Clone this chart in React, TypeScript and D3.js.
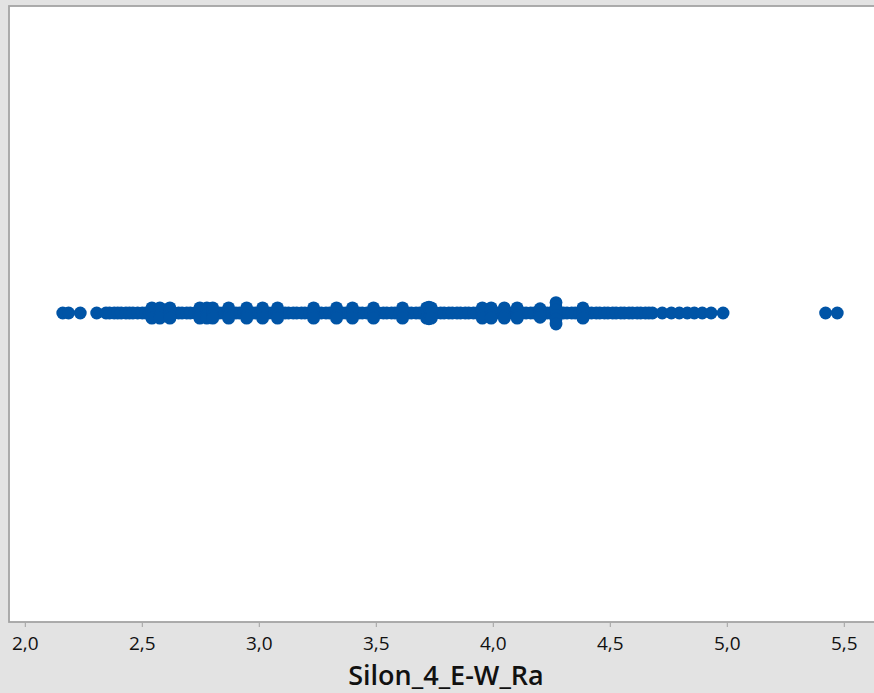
import React from "react";
import * as d3 from "d3";

// Axis ticks
const tickValues = [2.0, 2.5, 3.0, 3.5, 4.0, 4.5, 5.0, 5.5];
const axisTitle = "Silon_4_E-W_Ra";

const centerValues = [
  2.16, 2.185, 2.235, 2.305,
  2.345, 2.36, 2.38, 2.395, 2.41, 2.43, 2.445, 2.46, 2.48, 2.5, 2.515, 2.53, 2.55, 2.565, 2.585, 2.6,
  2.62, 2.635, 2.655, 2.67, 2.69, 2.705, 2.725, 2.74, 2.76, 2.775, 2.795, 2.81, 2.83, 2.845, 2.865, 2.88,
  2.9, 2.915, 2.935, 2.95, 2.97, 2.985, 3.005, 3.02, 3.04, 3.055, 3.075, 3.09, 3.11, 3.125, 3.145, 3.16,
  3.18, 3.195, 3.215, 3.23, 3.25, 3.265, 3.285, 3.3, 3.32, 3.335, 3.355, 3.37, 3.39, 3.405, 3.425, 3.44,
  3.46, 3.475, 3.495, 3.51, 3.53, 3.545, 3.565, 3.58, 3.6, 3.615, 3.635, 3.65, 3.67, 3.685, 3.705, 3.72,
  3.74, 3.755, 3.775, 3.79, 3.81, 3.825, 3.845, 3.86, 3.88, 3.895, 3.915, 3.93, 3.95, 3.965, 3.985, 4.0,
  4.02, 4.035, 4.055, 4.07, 4.09, 4.105, 4.125, 4.14, 4.16, 4.175, 4.195, 4.21, 4.23, 4.245, 4.265, 4.28,
  4.3, 4.315, 4.335, 4.35, 4.37, 4.385, 4.405, 4.42, 4.44, 4.455, 4.475, 4.49, 4.51, 4.525, 4.545, 4.56,
  4.58, 4.595, 4.615, 4.63, 4.65, 4.665, 4.68,
  4.722, 4.761, 4.795, 4.829, 4.859, 4.893, 4.931, 4.982,
  5.42, 5.47,
];

// Jittered observations (clusters that spread vertically)
const spreadValues = [
  2.541, 2.541, 2.541, 2.541, 2.575, 2.575, 2.575, 2.575, 2.618, 2.618, 2.618, 2.618,
  2.746, 2.746, 2.746, 2.746, 2.776, 2.776, 2.776, 2.776, 2.801, 2.801, 2.801, 2.801,
  2.869, 2.869, 2.869, 2.869, 2.946, 2.946, 2.946, 2.946, 3.014, 3.014, 3.014, 3.014,
  3.078, 3.078, 3.078, 3.078, 3.232, 3.232, 3.232, 3.232, 3.33, 3.33, 3.33, 3.33,
  3.398, 3.398, 3.398, 3.398, 3.488, 3.488, 3.488, 3.488, 3.612, 3.612, 3.612, 3.612,
  3.715, 3.715, 3.725, 3.725, 3.735, 3.735,
  3.953, 3.953, 3.953, 3.953, 3.991, 3.991, 3.991, 3.991, 4.047, 4.047, 4.047, 4.047,
  4.102, 4.102, 4.102, 4.102, 4.2, 4.2, 4.2, 4.2,
  4.268, 4.268, 4.268, 4.268, 4.268, 4.268, 4.383, 4.383, 4.383, 4.383,
];
const spreadJitter = [
  0.017, 0.009, -0.009, -0.017, 0.017, 0.009, -0.009, -0.017, 0.017, 0.009, -0.009, -0.017,
  0.017, 0.009, -0.009, -0.017, 0.017, 0.009, -0.009, -0.017, 0.017, 0.009, -0.009, -0.017,
  0.017, 0.009, -0.009, -0.017, 0.017, 0.009, -0.009, -0.017, 0.017, 0.009, -0.009, -0.017,
  0.017, 0.009, -0.009, -0.017, 0.017, 0.009, -0.009, -0.017, 0.017, 0.009, -0.009, -0.017,
  0.017, 0.009, -0.009, -0.017, 0.017, 0.009, -0.009, -0.017, 0.017, 0.009, -0.009, -0.017,
  0.017, -0.017, 0.019, -0.019, 0.017, -0.017,
  0.017, 0.009, -0.009, -0.017, 0.017, 0.009, -0.009, -0.017, 0.017, 0.009, -0.009, -0.017,
  0.017, 0.009, -0.009, -0.017, 0.014, 0.007, -0.007, -0.014,
  0.034, 0.02, 0.009, -0.009, -0.02, -0.036, 0.017, 0.009, -0.009, -0.017,
];

const W = 874;
const H = 693;
const plot = { left: 9, top: 6, right: 900, bottom: 622 };
const DOT = "#0054a6";
const FONT = "'Open Sans', 'Noto Sans', sans-serif";

export default function App() {
  const x = d3.scaleLinear().domain([2.0, 5.5]).range([25.3, 844.3]);
  const y = d3.scaleLinear().domain([-1, 1]).range([620, 6]);
  const fmt = (v: number) => d3.format(".1f")(v).replace(".", ",");
  const r = 6.4;

  const points = [
    ...centerValues.map((v) => ({ v, j: 0 })),
    ...spreadValues.map((v, i) => ({ v, j: spreadJitter[i] })),
  ];

  return (
    <svg
      width={W}
      height={H}
      style={{ position: "absolute", left: 0, top: 0, display: "block" }}
    >
      <rect x={0} y={0} width={W} height={H} fill="#e3e3e3" />
      <rect
        x={plot.left}
        y={plot.top}
        width={plot.right - plot.left}
        height={plot.bottom - plot.top}
        fill="#ffffff"
        stroke="#a4a4a4"
        strokeWidth={1.8}
      />
      <g>
        {points.map((p, i) => (
          <circle key={i} cx={x(p.v)} cy={y(p.j)} r={r} fill={DOT} />
        ))}
      </g>
      <g>
        {tickValues.map((t) => (
          <g key={t}>
            <line
              x1={x(t)}
              x2={x(t)}
              y1={plot.bottom + 0.9}
              y2={plot.bottom + 5}
              stroke="#a0a0a0"
              strokeWidth={1}
            />
            <text
              x={x(t)}
              y={650}
              textAnchor="middle"
              fontFamily={FONT}
              fontSize={19}
              fill="#111111"
            >
              {fmt(t)}
            </text>
          </g>
        ))}
      </g>
      <text
        x={446}
        y={685}
        textAnchor="middle"
        fontFamily={FONT}
        fontSize={27}
        fontWeight={600}
        fill="#111111"
      >
        {axisTitle}
      </text>
    </svg>
  );
}
